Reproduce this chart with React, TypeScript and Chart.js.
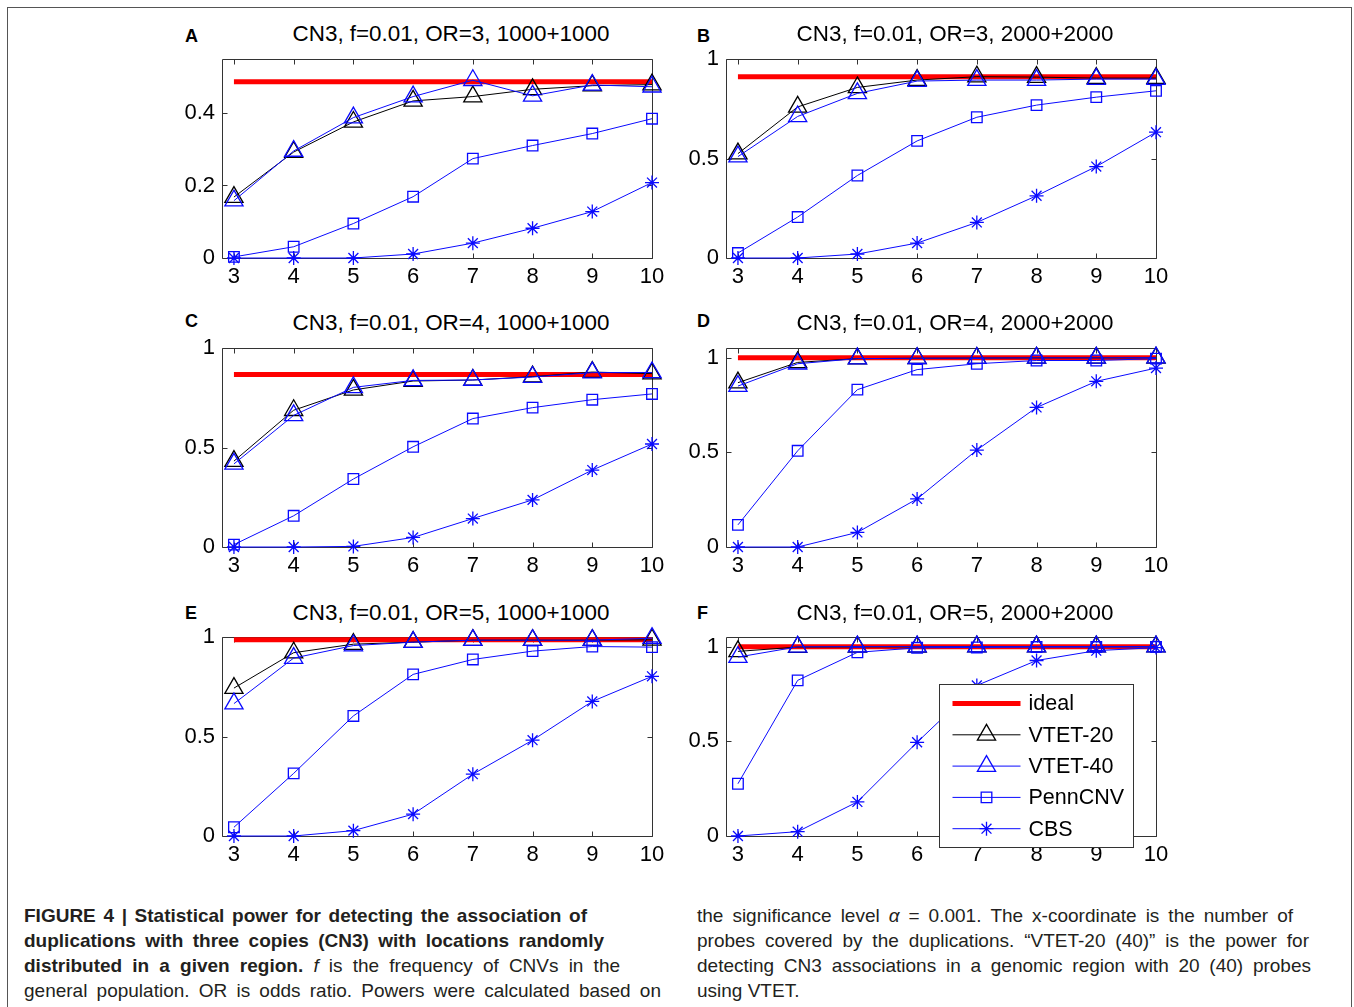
import React, { useEffect, useRef } from "react";
import { Chart, registerables } from "chart.js";

Chart.register(...registerables);

const FONT = '"Liberation Sans", Arial, Helvetica, sans-serif';

// ---------------- data ----------------
const probeCounts = [3, 4, 5, 6, 7, 8, 9, 10];
const xTickValues = [3, 4, 5, 6, 7, 8, 9, 10];
const seriesNames = ["ideal", "VTET-20", "VTET-40", "PennCNV", "CBS"];
const panelLetters = ["A", "B", "C", "D", "E", "F"];
const panelTitles = [
  "CN3, f=0.01, OR=3, 1000+1000",
  "CN3, f=0.01, OR=3, 2000+2000",
  "CN3, f=0.01, OR=4, 1000+1000",
  "CN3, f=0.01, OR=4, 2000+2000",
  "CN3, f=0.01, OR=5, 1000+1000",
  "CN3, f=0.01, OR=5, 2000+2000",
];
const idealPower = [0.486, 0.912, 0.868, 1.0, 0.987, 1.0];
const yAxisMax = [0.548, 1, 1, 1.05, 1, 1.05];
const yTicksSmall = [0, 0.2, 0.4];
const yTicksUnit = [0, 0.5, 1];

// Panel A: OR=3, 1000+1000
const vtet20A = [0.168, 0.292, 0.375, 0.433, 0.445, 0.465, 0.475, 0.478];
const vtet40A = [0.158, 0.295, 0.387, 0.445, 0.49, 0.447, 0.477, 0.472];
const pennA = [0.003, 0.031, 0.095, 0.169, 0.274, 0.31, 0.343, 0.384];
const cbsA = [0, 0, 0, 0.011, 0.041, 0.082, 0.128, 0.208];
// Panel B: OR=3, 2000+2000
const vtet20B = [0.525, 0.76, 0.858, 0.895, 0.912, 0.91, 0.905, 0.905];
const vtet40B = [0.51, 0.712, 0.828, 0.89, 0.895, 0.895, 0.9, 0.9];
const pennB = [0.025, 0.206, 0.415, 0.589, 0.708, 0.769, 0.809, 0.841];
const cbsB = [0, 0, 0.02, 0.075, 0.179, 0.313, 0.46, 0.633];
// Panel C: OR=4, 1000+1000
const vtet20C = [0.432, 0.688, 0.79, 0.835, 0.84, 0.857, 0.88, 0.872];
const vtet40C = [0.418, 0.662, 0.803, 0.838, 0.84, 0.855, 0.877, 0.878];
const pennC = [0.012, 0.157, 0.342, 0.504, 0.646, 0.701, 0.741, 0.77];
const cbsC = [0, 0, 0.003, 0.048, 0.143, 0.237, 0.387, 0.518];
// Panel D: OR=4, 2000+2000
const vtet20D = [0.868, 0.975, 0.995, 0.997, 0.998, 0.999, 0.999, 0.999];
const vtet40D = [0.85, 0.968, 0.995, 0.997, 0.998, 0.999, 0.999, 1.0];
const pennD = [0.117, 0.508, 0.831, 0.937, 0.968, 0.985, 0.985, 0.995];
const cbsD = [0, 0, 0.077, 0.254, 0.512, 0.737, 0.875, 0.945];
// Panel E: OR=5, 1000+1000
const vtet20E = [0.744, 0.922, 0.965, 0.975, 0.985, 0.985, 0.985, 0.987];
const vtet40E = [0.666, 0.895, 0.958, 0.975, 0.985, 0.985, 0.985, 0.995];
const pennE = [0.044, 0.315, 0.604, 0.813, 0.888, 0.93, 0.953, 0.95];
const cbsE = [0, 0, 0.027, 0.11, 0.311, 0.482, 0.677, 0.803];
// Panel F: OR=5, 2000+2000
const vtet20F = [0.975, 0.998, 0.999, 0.999, 1.0, 1.0, 1.0, 1.0];
const vtet40F = [0.945, 0.999, 1.0, 1.0, 1.0, 1.0, 1.0, 1.0];
const pennF = [0.276, 0.822, 0.97, 0.994, 0.996, 0.998, 0.998, 0.999];
const cbsF = [0, 0.023, 0.18, 0.495, 0.795, 0.927, 0.979, 0.995];

const panelSeries = [
  [vtet20A, vtet40A, pennA, cbsA],
  [vtet20B, vtet40B, pennB, cbsB],
  [vtet20C, vtet40C, pennC, cbsC],
  [vtet20D, vtet40D, pennD, cbsD],
  [vtet20E, vtet40E, pennE, cbsE],
  [vtet20F, vtet40F, pennF, cbsF],
];

// ---------------- layout ----------------
const PLOT_W = 430;
const PLOT_H = 199;
const PAD_L = 70;
const PAD_T = 20;
const PAD_R = 30;
const PAD_B = 40;
const colLeft = [222, 726];
const rowTop = [59, 348, 637];
const titleTop = [23.4, 312.1, 601.8];
const letterTop = [26.5, 311.5, 603.8];
const letterLeft = [185, 697];

const BLUE = "#0a0aff";
const RED = "#ff0000";
const BLACK = "#000000";

const seriesStyles = [
  { color: RED, width: 5, point: "none", radius: 0 },
  { color: BLACK, width: 1, point: "triangle", radius: 10.5 },
  { color: BLUE, width: 1, point: "triangle", radius: 10.5 },
  { color: BLUE, width: 1, point: "rect", radius: 7.5 },
  { color: BLUE, width: 1, point: "star", radius: 7 },
];

function drawMarker(ctx: CanvasRenderingContext2D, style: string, x: number, y: number, r: number) {
  ctx.beginPath();
  if (style === "triangle") {
    let rad = 0;
    ctx.moveTo(x + Math.sin(rad) * r, y - Math.cos(rad) * r);
    rad += (2 * Math.PI) / 3;
    ctx.lineTo(x + Math.sin(rad) * r, y - Math.cos(rad) * r);
    rad += (2 * Math.PI) / 3;
    ctx.lineTo(x + Math.sin(rad) * r, y - Math.cos(rad) * r);
    ctx.closePath();
  } else if (style === "rect") {
    const s = Math.SQRT1_2 * r;
    ctx.rect(x - s, y - s, 2 * s, 2 * s);
  } else if (style === "star") {
    const d = Math.SQRT1_2 * r;
    ctx.moveTo(x, y - r);
    ctx.lineTo(x, y + r);
    ctx.moveTo(x - r, y);
    ctx.lineTo(x + r, y);
    ctx.moveTo(x - d, y - d);
    ctx.lineTo(x + d, y + d);
    ctx.moveTo(x - d, y + d);
    ctx.lineTo(x + d, y - d);
  }
  ctx.stroke();
}

const framePlugin = {
  id: "matlabFrame",
  beforeDatasetsDraw(chart: any) {
    const { ctx, chartArea: a, scales } = chart;
    ctx.save();
    ctx.strokeStyle = "#333333";
    ctx.lineWidth = 1;
    const L = Math.round(a.left) + 0.5;
    const R = Math.round(a.right) + 0.5;
    const T = Math.round(a.top) + 0.5;
    const B = Math.round(a.bottom) + 0.5;
    ctx.beginPath();
    ctx.rect(L, T, R - L, B - T);
    const tl = 5;
    for (const t of scales.x.ticks) {
      const px = Math.round(scales.x.getPixelForValue(t.value)) + 0.5;
      ctx.moveTo(px, B);
      ctx.lineTo(px, B - tl);
      ctx.moveTo(px, T);
      ctx.lineTo(px, T + tl);
    }
    for (const t of scales.y.ticks) {
      const py = Math.round(scales.y.getPixelForValue(t.value)) + 0.5;
      ctx.moveTo(L, py);
      ctx.lineTo(L + tl, py);
      ctx.moveTo(R, py);
      ctx.lineTo(R - tl, py);
    }
    ctx.stroke();
    ctx.restore();
  },
};

const legendPlugin = {
  id: "panelLegend",
  afterDraw(chart: any) {
    if (!chart.options.plugins.panelLegend?.show) return;
    const { ctx, chartArea: a } = chart;
    const bx = Math.round(a.right - 217) + 0.5;
    const by = Math.round(a.top + 47) + 0.5;
    const bw = 194;
    const bh = 163;
    ctx.save();
    ctx.fillStyle = "#ffffff";
    ctx.fillRect(bx, by, bw, bh);
    ctx.strokeStyle = "#333333";
    ctx.lineWidth = 1;
    ctx.strokeRect(bx, by, bw, bh);
    ctx.font = `21.5px ${FONT}`;
    ctx.textBaseline = "middle";
    ctx.textAlign = "left";
    const datasets = chart.data.datasets;
    seriesNames.forEach((name, k) => {
      const ds = datasets.find((d: any) => d.label === name);
      const y = by + 19 + k * 31.3;
      ctx.strokeStyle = ds.borderColor;
      ctx.lineWidth = ds.borderWidth;
      ctx.beginPath();
      ctx.moveTo(bx + 13, y);
      ctx.lineTo(bx + 81, y);
      ctx.stroke();
      if (ds.pointRadius > 0) {
        ctx.lineWidth = ds.pointBorderWidth;
        ctx.strokeStyle = ds.pointBorderColor;
        drawMarker(ctx, ds.pointStyle, bx + 47, y, ds.pointRadius);
      }
      ctx.fillStyle = "#000000";
      ctx.fillText(name, bx + 89, y + 1);
    });
    ctx.restore();
  },
};

function makeConfig(i: number): any {
  const series = [probeCounts.map(() => idealPower[i]), ...panelSeries[i]];
  const datasets = series.map((vals, k) => {
    const st = seriesStyles[k];
    return {
      label: seriesNames[k],
      data: probeCounts.map((x, j) => ({ x, y: vals[j] })),
      borderColor: st.color,
      borderWidth: st.width,
      backgroundColor: "transparent",
      pointStyle: st.point === "none" ? "circle" : st.point,
      pointRadius: st.radius,
      pointBorderColor: st.color,
      pointBackgroundColor: "transparent",
      pointBorderWidth: 1.3,
      tension: 0,
      fill: false,
      clip: false,
      order: 5 - k,
      borderCapStyle: "butt",
    };
  });
  const yTicks = i === 0 ? yTicksSmall : yTicksUnit;
  const tickFont = { family: FONT, size: 22 };
  return {
    type: "line",
    data: { datasets },
    options: {
      animation: false,
      responsive: false,
      events: [],
      layout: { padding: { left: 0, top: PAD_T, right: PAD_R, bottom: 0 } },
      plugins: {
        legend: { display: false },
        tooltip: { enabled: false },
        title: { display: false },
        panelLegend: { show: i === 5 },
      },
      scales: {
        x: {
          type: "linear",
          min: 2.8,
          max: 10,
          grid: { display: false, drawTicks: false },
          border: { display: false },
          ticks: {
            color: "#000",
            font: tickFont,
            padding: 6,
            maxRotation: 0,
            autoSkip: false,
            callback: (v: number) => String(v),
          },
          afterBuildTicks: (axis: any) => {
            axis.ticks = xTickValues.map((v) => ({ value: v }));
          },
          afterFit: (axis: any) => {
            axis.height = PAD_B;
          },
        },
        y: {
          type: "linear",
          min: 0,
          max: yAxisMax[i],
          grid: { display: false, drawTicks: false },
          border: { display: false },
          ticks: {
            color: "#000",
            font: tickFont,
            padding: 7,
            autoSkip: false,
            callback: (v: number) => String(v),
          },
          afterBuildTicks: (axis: any) => {
            axis.ticks = yTicks.map((v) => ({ value: v }));
          },
          afterFit: (axis: any) => {
            axis.width = PAD_L;
          },
        },
      },
    },
    plugins: [framePlugin, legendPlugin],
  };
}

function Panel({ index }: { index: number }) {
  const ref = useRef<HTMLCanvasElement>(null);
  const col = index % 2;
  const row = Math.floor(index / 2);
  const left = colLeft[col] - PAD_L;
  const top = rowTop[row] - PAD_T;
  const W = PAD_L + PLOT_W + PAD_R;
  const H = PAD_T + PLOT_H + PAD_B;
  useEffect(() => {
    if (!ref.current) return;
    const chart = new Chart(ref.current, makeConfig(index));
    return () => chart.destroy();
  }, [index]);
  return (
    <>
      <div
        style={{
          position: "absolute",
          left: letterLeft[col],
          top: letterTop[row],
          fontFamily: FONT,
          fontWeight: "bold",
          fontSize: 18,
          lineHeight: "18px",
          color: "#000",
        }}
      >
        {panelLetters[index]}
      </div>
      <div
        style={{
          position: "absolute",
          left: colLeft[col] + PLOT_W / 2 + 14 - 250,
          width: 500,
          top: titleTop[row],
          textAlign: "center",
          fontFamily: FONT,
          fontSize: 22.4,
          lineHeight: "22.4px",
          color: "#000",
          whiteSpace: "nowrap",
        }}
      >
        {panelTitles[index]}
      </div>
      <canvas
        ref={ref}
        width={W}
        height={H}
        style={{ position: "absolute", left, top, width: W, height: H }}
      />
    </>
  );
}

const captionLineStyle = (left: number, top: number, width: number, justify: boolean): React.CSSProperties => ({
  position: "absolute",
  left,
  top,
  width,
  fontFamily: FONT,
  fontSize: 19,
  lineHeight: "25px",
  color: "#231f20",
  textAlign: justify ? "justify" : "left",
  textAlignLast: justify ? "justify" : "left",
});

export default function App() {
  const capTop = 902.6;
  const lh = 25;
  return (
    <div
      style={{
        position: "absolute",
        left: 0,
        top: 0,
        width: 1354,
        height: 1007,
        overflow: "hidden",
        background: "#ffffff",
      }}
    >
      <div
        style={{
          position: "absolute",
          left: 7,
          top: 7,
          width: 1345,
          height: 1100,
          border: "1px solid #555",
          boxSizing: "border-box",
        }}
      />
      {[0, 1, 2, 3, 4, 5].map((i) => (
        <Panel key={i} index={i} />
      ))}
      <div style={captionLineStyle(24, capTop, 563, true)}>
        <b>FIGURE 4 | Statistical power for detecting the association of</b>
      </div>
      <div style={captionLineStyle(24, capTop + lh, 580, true)}>
        <b>duplications with three copies (CN3) with locations randomly</b>
      </div>
      <div style={captionLineStyle(24, capTop + 2 * lh, 596, true)}>
        <b>distributed in a given region.</b> <i>f</i> is the frequency of CNVs in the
      </div>
      <div style={captionLineStyle(24, capTop + 3 * lh, 637, true)}>
        general population. OR is odds ratio. Powers were calculated based on
      </div>
      <div style={captionLineStyle(697, capTop, 596, true)}>
        the significance level <i>α</i> = 0.001. The x-coordinate is the number of
      </div>
      <div style={captionLineStyle(697, capTop + lh, 612, true)}>
        probes covered by the duplications. “VTET-20 (40)” is the power for
      </div>
      <div style={captionLineStyle(697, capTop + 2 * lh, 614, true)}>
        detecting CN3 associations in a genomic region with 20 (40) probes
      </div>
      <div style={captionLineStyle(697, capTop + 3 * lh, 614, false)}>using VTET.</div>
    </div>
  );
}
